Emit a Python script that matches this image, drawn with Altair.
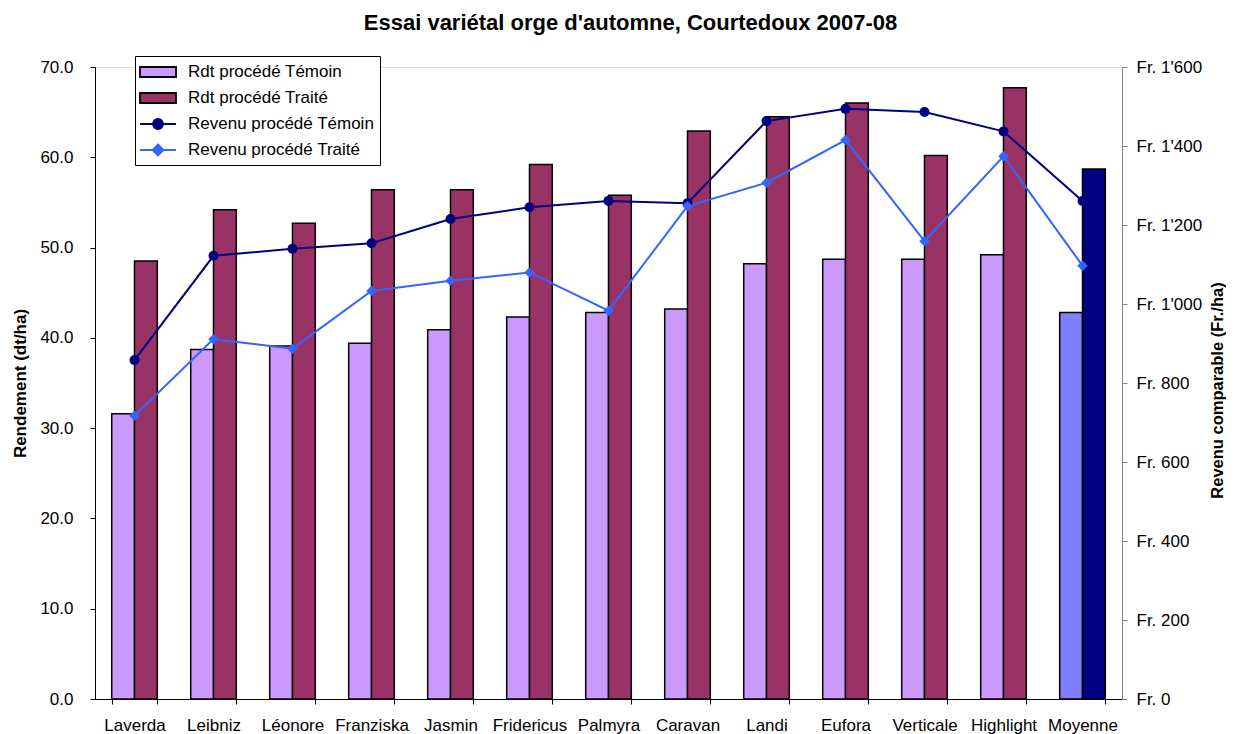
import altair as alt
import pandas as pd

varieties = ["Laverda", "Leibniz", "Léonore", "Franziska", "Jasmin", "Fridericus",
             "Palmyra", "Caravan", "Landi", "Eufora", "Verticale", "Highlight", "Moyenne"]
rdt_temoin = [31.6, 38.7, 39.1, 39.4, 40.9, 42.3, 42.8, 43.2, 48.2, 48.7, 48.7, 49.2, 42.8]
rdt_traite = [48.5, 54.2, 52.7, 56.4, 56.4, 59.2, 55.8, 62.9, 64.5, 66.0, 60.2, 67.7, 58.7]
rev_temoin = [858, 1122, 1140, 1154, 1215, 1245, 1261, 1255, 1463, 1494, 1486, 1437, 1261]
rev_traite = [717, 911, 887, 1033, 1059, 1080, 983, 1248, 1307, 1415, 1159, 1374, 1097]

series = ["Rdt procédé Témoin", "Rdt procédé Traité",
          "Revenu procédé Témoin", "Revenu procédé Traité"]
y_ticks_left = [0, 10, 20, 30, 40, 50, 60, 70]
y_ticks_right = [0, 200, 400, 600, 800, 1000, 1200, 1400, 1600]

FONT = "Liberation Sans"
C_TEM, C_TRA = "#CC99FF", "#993366"
C_MTEM, C_MTRA = "#8080FF", "#000080"
C_LTEM, C_LTRA = "#000080", "#3366FF"

n = len(varieties)
bars_df = pd.DataFrame({
    "variete": varieties * 2,
    "proc": ["Témoin"] * n + ["Traité"] * n,
    "rdt": rdt_temoin + rdt_traite,
})
bars_df["key"] = bars_df["proc"] + bars_df["variete"].map(lambda v: "_moy" if v == "Moyenne" else "")

rev_df = pd.DataFrame({
    "variete": varieties * 2,
    "serie": [series[2]] * n + [series[3]] * n,
    "rev": rev_temoin + rev_traite,
})

x_enc = alt.X(
    "variete:N", sort=varieties,
    scale=alt.Scale(paddingInner=0.423, paddingOuter=0.2115),
    axis=alt.Axis(title=None, labelAngle=0, tickBand="extent", domainColor="black",
                  tickColor="black", tickSize=5, labelFontSize=17, labelPadding=13,
                  labelColor="black", grid=False, labelFont=FONT),
)

bars = alt.Chart(bars_df).mark_bar(stroke="black", strokeWidth=1.5).encode(
    x=x_enc,
    xOffset=alt.XOffset("proc:N", sort=["Témoin", "Traité"]),
    y=alt.Y("rdt:Q", scale=alt.Scale(domain=[0, 70], nice=False),
            axis=alt.Axis(values=y_ticks_left, format=".1f", title="Rendement (dt/ha)",
                          domainColor="black", tickColor="black", tickSize=5,
                          labelPadding=17, labelFontSize=17, labelColor="black",
                          labelFont=FONT, grid=False,
                          titleFont=FONT, titleFontSize=17, titleFontWeight="bold",
                          titleAngle=270, titleX=-74.5, titleY=316,
                          titleAlign="center", titleBaseline="middle")),
    fill=alt.Fill("key:N",
                  scale=alt.Scale(domain=["Témoin", "Traité", "Témoin_moy", "Traité_moy"],
                                  range=[C_TEM, C_TRA, C_MTEM, C_MTRA]),
                  legend=None),
)

right_axis = alt.Axis(
    orient="right", values=y_ticks_right, title="Revenu comparable (Fr./ha)",
    labelExpr="'Fr. ' + replace(format(datum.value, ','), ',', \"'\")",
    domainColor="#808080", tickColor="#808080", tickSize=5, labelPadding=9,
    labelFontSize=17, labelColor="black", labelFont=FONT, grid=False,
    titleFont=FONT, titleFontSize=16.5, titleFontWeight="bold",
    titleAngle=270, titleX=95, titleY=323, titleAlign="center", titleBaseline="middle",
)
y_rev_scale = alt.Scale(domain=[0, 1600], nice=False)

PATH_RECT = "M-1.8,-0.5H1.8V0.5H-1.8Z"
PATH_CIRC = "M-1.8,0H1.8M-0.5,0A0.5,0.5 0 1 0 0.5,0A0.5,0.5 0 1 0 -0.5,0Z"
PATH_DIAM = "M-1.8,0H1.8M0,-0.55L0.55,0L0,0.55L-0.55,0Z"

legend = alt.Legend(
    title=None, orient="none", legendX=40, legendY=-11,
    labelFont=FONT, labelFontSize=17, labelColor="black", labelLimit=400,
    symbolSize=400, symbolOffset=7, labelOffset=19, rowPadding=6,
    symbolStrokeWidth=1.8, symbolOpacity=1,
    padding=5, strokeColor="black", fillColor="white",
)

line_base = alt.Chart(rev_df).encode(
    x=x_enc,
    y=alt.Y("rev:Q", scale=y_rev_scale, axis=right_axis),
)
line_tem = line_base.transform_filter(alt.datum.serie == series[2]).mark_line(
    color=C_LTEM, strokeWidth=2)
line_tra = line_base.transform_filter(alt.datum.serie == series[3]).mark_line(
    color=C_LTRA, strokeWidth=2)
pts_tem = line_base.transform_filter(alt.datum.serie == series[2]).mark_point(
    filled=True, size=100, opacity=1, shape="circle", color=C_LTEM)
pts_tra = line_base.transform_filter(alt.datum.serie == series[3]).mark_point(
    filled=True, size=110, opacity=1, shape="diamond", color=C_LTRA)

# invisible layer only carrying the combined legend
legend_layer = line_base.mark_point(filled=True, opacity=0).encode(
    color=alt.Color("serie:N", scale=alt.Scale(domain=series,
                    range=[C_TEM, C_TRA, C_LTEM, C_LTRA]), legend=legend),
    shape=alt.Shape("serie:N", scale=alt.Scale(domain=series,
                    range=[PATH_RECT, PATH_RECT, PATH_CIRC, PATH_DIAM]), legend=legend),
    stroke=alt.Stroke("serie:N", scale=alt.Scale(domain=series,
                      range=["black", "black", C_LTEM, C_LTRA]), legend=legend),
)

revenue = alt.layer(line_tem, line_tra, pts_tem, pts_tra, legend_layer)

chart = alt.layer(bars, revenue).resolve_scale(y="independent").properties(
    width=1027, height=632,
    padding={"left": 87, "top": 59, "right": 104, "bottom": 35},
    autosize=alt.AutoSizeParams(type="none"),
    title=alt.TitleParams("Essai variétal orge d'automne, Courtedoux 2007-08",
                          font=FONT, fontSize=22, fontWeight="bold", color="black",
                          dx=22, offset=21),
).configure_view(stroke=None).configure(background="white")

chart.save("out.html", embed_options={"renderer": "svg", "actions": False})
